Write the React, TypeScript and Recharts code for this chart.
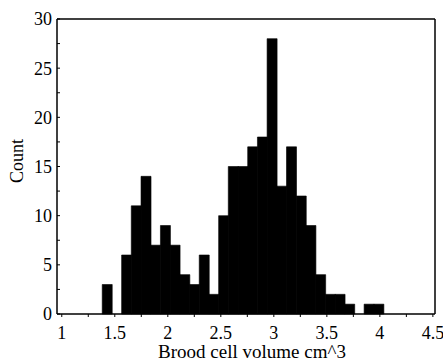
import { BarChart, Bar, XAxis, YAxis } from "recharts";

// bin centres (cm^3) and counts
const binCenters = [
  1.427, 1.518, 1.61, 1.701, 1.793, 1.884, 1.976, 2.067, 2.159, 2.25, 2.342, 2.433, 2.525, 2.616, 2.708,
  2.799, 2.891, 2.982, 3.074, 3.165, 3.257, 3.348, 3.44, 3.531, 3.623, 3.714, 3.806, 3.897, 3.989,
];
const counts = [3, 0, 6, 11, 14, 7, 9, 7, 4, 3, 6, 2, 10, 15, 15, 17, 18, 28, 13, 17, 12, 9, 4, 2, 2, 1, 0, 1, 1];

const xTicks = [1, 1.25, 1.5, 1.75, 2, 2.25, 2.5, 2.75, 3, 3.25, 3.5, 3.75, 4, 4.25, 4.5];
const yTicks = [0, 2.5, 5, 7.5, 10, 12.5, 15, 17.5, 20, 22.5, 25, 27.5, 30];

const data = binCenters.map((x, i) => ({ x, count: counts[i] }));

const FONT = '"Liberation Serif", "Times New Roman", serif';
const tickStyle = { fill: "#000", fontSize: 18, fontFamily: FONT };
const axisLine = { stroke: "#000", strokeWidth: 1.5 };
const tickLine = { stroke: "#000", strokeWidth: 1 };

const fmtX = (v: number) => (Math.round(v * 2) === v * 2 ? String(v) : "");
const fmtY = (v: number) => (v % 5 === 0 ? String(v) : "");

export default function App() {
  return (
    <div style={{ position: "absolute", left: 0, top: 0, background: "#fff" }}>
      <BarChart
        width={443}
        height={361}
        data={data}
        margin={{ top: 18, right: 7, bottom: 0, left: 0 }}
        barCategoryGap={0}
        barGap={0}
      >
        <XAxis
          dataKey="x"
          type="number"
          domain={[0.955, 4.52]}
          ticks={xTicks}
          interval={0}
          tickFormatter={fmtX}
          height={47}
          tickSize={3}
          tickMargin={9}
          tick={tickStyle}
          axisLine={axisLine}
          tickLine={tickLine}
          allowDataOverflow
          label={{
            content: () => (
              <text x={252} y={358} textAnchor="middle" fontSize={19} fontFamily={FONT} fill="#000">
                Brood cell volume cm^3
              </text>
            ),
          }}
        />
        <XAxis
          xAxisId="top"
          dataKey="x"
          type="number"
          orientation="top"
          domain={[0.955, 4.52]}
          ticks={xTicks}
          interval={0}
          height={1}
          tick={false}
          tickSize={3}
          axisLine={axisLine}
          tickLine={tickLine}
          allowDataOverflow
        />
        <YAxis
          type="number"
          domain={[0, 30]}
          ticks={yTicks}
          interval={0}
          tickFormatter={fmtY}
          width={57}
          tickSize={-3}
          tickMargin={8}
          tick={tickStyle}
          axisLine={axisLine}
          tickLine={tickLine}
          label={{
            content: () => (
              <text
                x={17}
                y={161}
                transform="rotate(-90, 17, 161)"
                textAnchor="middle"
                dominantBaseline="central"
                fontSize={18}
                fontFamily={FONT}
                fill="#000"
              >
                Count
              </text>
            ),
          }}
        />
        <YAxis
          yAxisId="right"
          type="number"
          orientation="right"
          domain={[0, 30]}
          ticks={yTicks}
          interval={0}
          width={1}
          tick={false}
          tickSize={-3}
          axisLine={axisLine}
          tickLine={tickLine}
        />
        <Bar dataKey="count" fill="#000" stroke="#000" strokeWidth={0.6} isAnimationActive={false} />
      </BarChart>
    </div>
  );
}
